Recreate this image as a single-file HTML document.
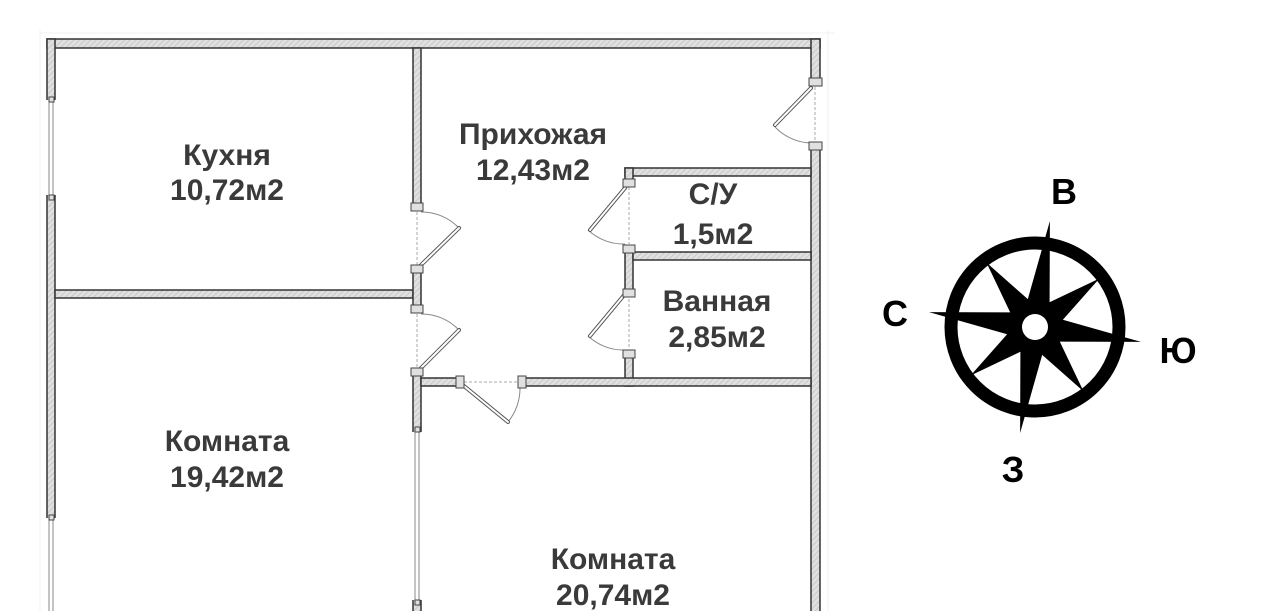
<!DOCTYPE html>
<html><head><meta charset="utf-8"><style>
html,body{margin:0;padding:0;background:#fff;width:1280px;height:611px;overflow:hidden}
svg{display:block}
text{font-family:"Liberation Sans",sans-serif;font-weight:bold}
</style></head><body>
<svg width="1280" height="611" viewBox="0 0 1280 611" xmlns="http://www.w3.org/2000/svg">
<defs>
<pattern id="h" width="4" height="4" patternUnits="userSpaceOnUse" patternTransform="rotate(45)">
<rect width="4" height="4" fill="#e0e0e0"/><line x1="0" y1="0" x2="0" y2="4" stroke="#c0c0c0" stroke-width="1.5"/>
</pattern>
</defs>
<g stroke="#f0f0f0" stroke-width="1">
<line x1="40" y1="33" x2="835" y2="33"/><line x1="40" y1="30" x2="40" y2="611"/><line x1="828" y1="30" x2="828" y2="611"/>
</g>
<g fill="url(#h)" stroke="#333" stroke-width="1.5">
<rect x="47" y="39" width="773" height="9"/>
<rect x="47" y="39" width="8" height="580"/>
<rect x="811" y="39" width="9" height="580"/>
<rect x="55" y="290" width="358" height="8"/>
<rect x="413" y="48" width="8" height="570"/>
<rect x="625" y="168" width="186" height="8"/>
<rect x="625" y="168" width="8" height="218"/>
<rect x="633" y="252" width="178" height="8"/>
<rect x="421" y="378" width="390" height="8"/>
</g>
<g fill="#fff" stroke="none">
<rect x="412" y="208" width="10" height="60"/>
<rect x="412" y="310" width="10" height="62"/>
<rect x="624" y="183" width="10" height="63"/>
<rect x="624" y="290" width="10" height="60"/>
<rect x="460" y="377" width="60" height="10"/>
<rect x="810" y="83" width="11" height="62"/>
<rect x="46" y="100" width="10" height="95"/>
<rect x="46" y="518" width="10" height="93"/>
<rect x="412" y="432" width="10" height="168"/>
</g>
<g stroke="#888" stroke-width="1" fill="none">
<line x1="49" y1="100" x2="49" y2="195"/><line x1="53" y1="100" x2="53" y2="195"/>
<line x1="49" y1="520" x2="49" y2="611"/><line x1="53" y1="520" x2="53" y2="611"/>
<line x1="415" y1="432" x2="415" y2="600"/><line x1="419" y1="432" x2="419" y2="600"/>
<g stroke-dasharray="3,2" stroke="#aaa">
<line x1="417" y1="212" x2="417" y2="266"/><line x1="417" y1="314" x2="417" y2="370"/>
<line x1="629" y1="187" x2="629" y2="244"/><line x1="629" y1="294" x2="629" y2="348"/>
<line x1="464" y1="382" x2="518" y2="382"/><line x1="815" y1="87" x2="815" y2="143"/>
</g>
<path d="M421 212 A52 52 0 0 1 459 228"/>
<path d="M421 314 A52 52 0 0 1 459 330"/>
<path d="M625 244 A52 52 0 0 1 588 230"/>
<path d="M625 350 A52 52 0 0 1 588 336"/>
<path d="M520 386 A55 55 0 0 1 508 422"/>
<path d="M811 143 A52 52 0 0 1 775 127"/>
</g>
<g stroke="#555" stroke-width="4" stroke-linecap="round">
<line x1="421" y1="265" x2="459" y2="228"/>
<line x1="421" y1="368" x2="459" y2="330"/>
<line x1="625" y1="188" x2="590" y2="230"/>
<line x1="625" y1="294" x2="590" y2="336"/>
<line x1="464" y1="386" x2="508" y2="422"/>
<line x1="811" y1="88" x2="775" y2="125"/>
</g>
<g stroke="#fff" stroke-width="2" stroke-linecap="round">
<line x1="421" y1="265" x2="459" y2="228"/>
<line x1="421" y1="368" x2="459" y2="330"/>
<line x1="625" y1="188" x2="590" y2="230"/>
<line x1="625" y1="294" x2="590" y2="336"/>
<line x1="464" y1="386" x2="508" y2="422"/>
<line x1="811" y1="88" x2="775" y2="125"/>
</g>
<g fill="#e0e0e0" stroke="#444" stroke-width="1">
<rect x="411" y="203" width="12" height="8"/><rect x="411" y="265" width="12" height="8"/>
<rect x="411" y="305" width="12" height="8"/><rect x="411" y="368" width="12" height="8"/>
<rect x="623" y="179" width="12" height="8"/><rect x="623" y="245" width="12" height="8"/>
<rect x="623" y="289" width="12" height="8"/><rect x="623" y="350" width="12" height="8"/>
<rect x="456" y="376" width="8" height="12"/><rect x="518" y="376" width="8" height="12"/>
<rect x="809" y="78" width="13" height="8"/><rect x="809" y="142" width="13" height="8"/>
<rect x="49" y="97" width="5" height="5"/><rect x="49" y="195" width="5" height="5"/>
<rect x="49" y="515" width="5" height="5"/><rect x="415" y="427" width="5" height="5"/><rect x="415" y="600" width="5" height="5"/>
</g>
<g fill="#3a3a3a" font-size="30" text-anchor="middle">
<text x="227" y="165">Кухня</text><text x="227" y="200">10,72м2</text>
<text x="533" y="144">Прихожая</text><text x="533" y="180">12,43м2</text>
<text x="713" y="204">С/У</text><text x="713" y="244">1,5м2</text>
<text x="717" y="311">Ванная</text><text x="717" y="347">2,85м2</text>
<text x="227" y="451">Комната</text><text x="227" y="487">19,42м2</text>
<text x="613" y="569">Комната</text><text x="613" y="605">20,74м2</text>
</g>
<g transform="translate(1035,327)">
<circle r="84" fill="none" stroke="#000" stroke-width="13"/>
<polygon transform="rotate(8)" fill="#000" points="0,-107 11,-26.6 57,-57 26.6,-11 107,0 26.6,11 57,57 11,26.6 0,107 -11,26.6 -57,57 -26.6,11 -107,0 -26.6,-11 -57,-57 -11,-26.6"/>
<circle r="13" fill="#fff"/>
</g>
<g fill="#000" font-size="36" text-anchor="middle">
<text x="1064" y="204">В</text>
<text x="895" y="326">С</text>
<text x="1178" y="363">Ю</text>
<text x="1013" y="482">З</text>
</g>
</svg>
</body></html>
